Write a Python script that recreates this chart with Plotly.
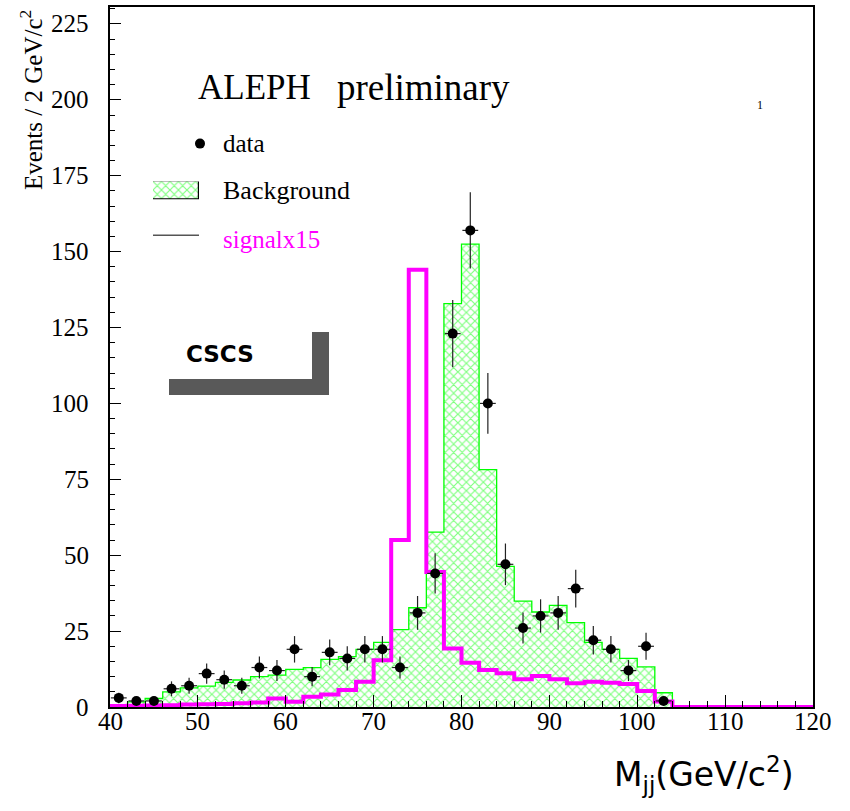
import numpy as np
import plotly.graph_objects as go

# ---- histogram contents: 2 GeV bins from 40 to 120 GeV ----
bin_edges = list(range(40, 122, 2))
background = [0.6, 1.7, 2.8, 5.0, 6.3, 6.9, 8.1, 8.9, 10.0, 10.5,
              12.4, 13.0, 15.7, 16.6, 19.0, 21.3, 25.5, 32.7, 57.6, 132.9,
              152.5, 78.2, 46.3, 34.9, 31.3, 33.5, 27.8, 21.3, 19.0, 16.0,
              13.2, 4.7, 0, 0, 0, 0, 0, 0, 0, 0]
signal_x15 = [0.3, 0.4, 0.5, 0.6, 0.8, 0.9, 1.0, 1.2, 1.5, 2.8,
              1.7, 3.4, 4.1, 5.6, 8.3, 15.4, 55.0, 144.0, 44.5, 19.3,
              14.6, 12.2, 11.1, 9.1, 10.2, 9.1, 7.8, 8.3, 8.0, 7.6,
              5.3, 1.8, 0, 0, 0, 0, 0, 0, 0, 0]
data_centers = list(range(41, 105, 2))
data_counts = [3, 2, 2, 6, 7, 11, 9, 7, 13, 12,
               19, 10, 18, 16, 19, 19, 13, 31, 44, 123,
               157, 100, 47, 26, 30, 31, 39, 22, 19, 12,
               20, 2]

y_ticks = [0, 25, 50, 75, 100, 125, 150, 175, 200, 225]
x_ticks = [40, 50, 60, 70, 80, 90, 100, 110, 120]

GREEN = "#00ff00"
MAGENTA = "#ff00ff"
SERIF = "Liberation Serif"

W, H = 850, 811
L, R, T, B = 110, 37, 5, 104
PW, PH = W - L - R, H - T - B


def px(x):
    return (x - L) / PW


def py(y):
    return (H - B - y) / PH


centers = [e + 1 for e in bin_edges[:-1]]
n_bkg = max(i for i, v in enumerate(background) if v > 0) + 1
hatch = dict(shape="x", fgcolor=GREEN, bgcolor="white", size=6, solidity=0.35)

fig = go.Figure()

# background: cross-hatched histogram
fig.add_trace(go.Bar(
    x=centers[:n_bkg], y=background[:n_bkg], width=2,
    marker=dict(color="white", line=dict(width=0), pattern=hatch),
    showlegend=False, hoverinfo="skip"))

# background outline as a step line
bx = [bin_edges[0]] + bin_edges[:n_bkg] + [bin_edges[n_bkg], bin_edges[n_bkg]]
by = [0] + background[:n_bkg] + [background[n_bkg - 1], 0]
fig.add_trace(go.Scatter(x=bx, y=by, mode="lines", line=dict(shape="hv", color=GREEN, width=1.3),
                         showlegend=False, hoverinfo="skip"))

# signal x15 step line
sx = bin_edges[:-1] + [bin_edges[-1]]
sy = signal_x15 + [signal_x15[-1]]
fig.add_trace(go.Scatter(x=sx, y=sy, mode="lines", line=dict(shape="hv", color=MAGENTA, width=4),
                         showlegend=False, hoverinfo="skip"))

# data points with Poisson errors
fig.add_trace(go.Scatter(
    x=data_centers, y=data_counts, mode="markers",
    marker=dict(color="black", size=10),
    error_y=dict(type="data", array=list(np.sqrt(data_counts)), color="#222222", thickness=1.2, width=0),
    error_x=dict(type="constant", value=0.9, color="#222222", thickness=1.2, width=0),
    showlegend=False, hoverinfo="skip"))

# hatched swatch for the "Background" legend entry
fig.add_trace(go.Bar(
    x=[0.5], y=[1], width=1, xaxis="x2", yaxis="y2",
    marker=dict(color="white", line=dict(width=1.2, color="black"), pattern=hatch),
    showlegend=False, hoverinfo="skip"))

fig.update_layout(
    width=W, height=H,
    margin=dict(l=L, r=R, t=T, b=B, pad=0),
    paper_bgcolor="white", plot_bgcolor="white",
    font=dict(family=SERIF, size=24, color="black"),
    bargap=0, barmode="overlay",
    xaxis=dict(range=[40, 120], tickvals=x_ticks, showticklabels=False,
               ticks="inside", ticklen=12, tickwidth=1.2, tickcolor="black",
               minor=dict(dtick=2, ticks="inside", ticklen=6, tickcolor="black", tickwidth=1),
               showline=True, linecolor="black", linewidth=2, mirror=True,
               showgrid=False, zeroline=False),
    yaxis=dict(range=[0, PH / (685 / 225)], tickvals=y_ticks, showticklabels=False,
               ticks="inside", ticklen=11, tickwidth=1.2, tickcolor="black",
               minor=dict(dtick=5, ticks="inside", ticklen=5, tickcolor="black", tickwidth=1),
               showline=True, linecolor="black", linewidth=2, mirror=True,
               showgrid=False, zeroline=False),
    xaxis2=dict(domain=[px(153), px(199)], range=[0, 1], visible=False, anchor="y2", fixedrange=True),
    yaxis2=dict(domain=[py(198), py(180)], range=[0, 1], visible=False, anchor="x2", fixedrange=True),
)

shapes = [
    # legend marker for data and line for signal
    dict(type="circle", xref="paper", yref="paper",
         x0=px(195), x1=px(205), y0=py(147), y1=py(137),
         fillcolor="black", line=dict(width=0)),
    dict(type="line", xref="paper", yref="paper",
         x0=px(153), x1=px(199), y0=py(234), y1=py(234),
         line=dict(color="#555555", width=1.5)),
    # CSCS logo bracket
    dict(type="rect", xref="paper", yref="paper",
         x0=px(169), x1=px(329), y0=py(394), y1=py(378),
         fillcolor="#595959", line=dict(width=0)),
    dict(type="rect", xref="paper", yref="paper",
         x0=px(312), x1=px(329), y0=py(394), y1=py(331),
         fillcolor="#595959", line=dict(width=0)),
]
fig.update_layout(shapes=shapes)

tick_font = dict(family=SERIF, size=25, color="black")
annotations = []
# axis numbers, placed on the axis scales
for v in x_ticks:
    annotations.append(dict(text=str(v), xref="x", yref="paper", x=v, y=py(706),
                            xanchor="center", yanchor="top", font=tick_font))
for v in y_ticks:
    annotations.append(dict(text=str(v), xref="paper", yref="y", x=px(91), y=v,
                            xanchor="right", yanchor="middle", font=tick_font))

annotations += [
    dict(text="ALEPH", x=px(196), y=py(86), xanchor="left", yanchor="middle",
         font=dict(family=SERIF, size=35, color="black")),
    dict(text="preliminary", x=px(335), y=py(86), xanchor="left", yanchor="middle",
         font=dict(family=SERIF, size=37, color="black")),
    dict(text="data", x=px(221), y=py(142), xanchor="left", yanchor="middle",
         font=dict(family=SERIF, size=25, color="black")),
    dict(text="Background", x=px(221), y=py(189), xanchor="left", yanchor="middle",
         font=dict(family=SERIF, size=26, color="black")),
    dict(text="signalx15", x=px(221), y=py(238), xanchor="left", yanchor="middle",
         font=dict(family=SERIF, size=25, color=MAGENTA)),
    dict(text="Events / 2 GeV/c<sup>2</sup>", textangle=-90, x=px(31), y=py(6),
         xanchor="center", yanchor="top",
         font=dict(family=SERIF, size=25, color="black")),
    dict(text="M<sub>jj</sub>(GeV/c<sup>2</sup>)", x=px(704), y=py(775),
         xanchor="center", yanchor="middle",
         font=dict(family="DejaVu Sans", size=33, color="black")),
    dict(text="<b>CSCS</b>", x=px(220), y=py(353), xanchor="center", yanchor="middle",
         font=dict(family="DejaVu Sans", size=23, color="black")),
    dict(text="1", x=px(760), y=py(103), xanchor="center", yanchor="middle",
         font=dict(family=SERIF, size=12, color="black")),
]
for a in annotations:
    a.setdefault("xref", "paper")
    a.setdefault("yref", "paper")
    a["showarrow"] = False
fig.update_layout(annotations=annotations)

fig.write_html("out.html")
